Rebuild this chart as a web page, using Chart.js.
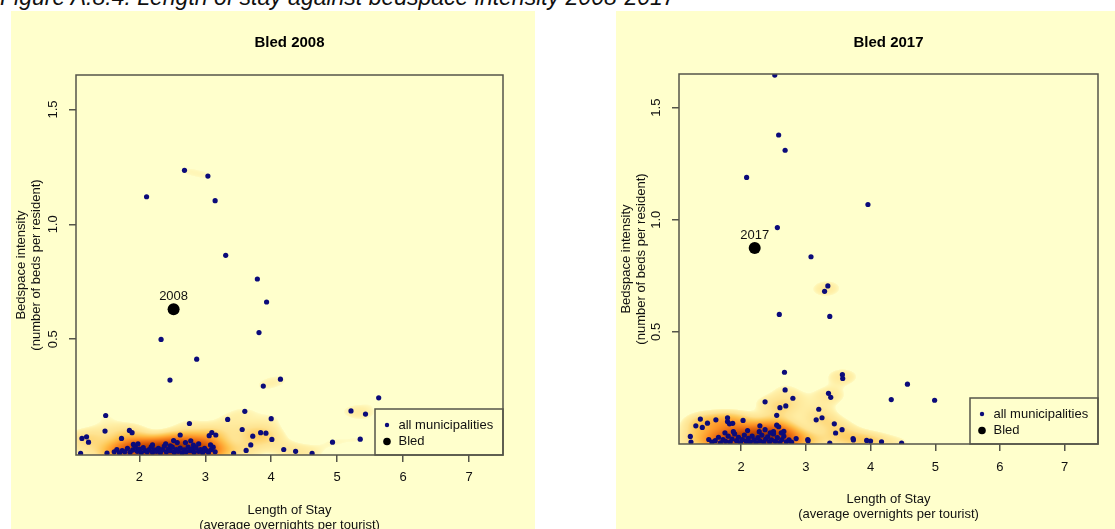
<!DOCTYPE html>
<html lang="en">
<head>
    <meta charset="UTF-8">
    <title>Length of stay against bedspace intensity 2008-2017</title>
    <script src="https://cdn.jsdelivr.net/npm/chart.js"></script>
    <style>
        body {
            margin: 0;
            width: 1115px;
            height: 529px;
            overflow: hidden;
            position: relative;
            background: #ffffff;
            font-family: "Liberation Sans", Arial, sans-serif;
        }
        .caption {
            position: absolute;
            left: 0;
            top: -14.5px;
            font-size: 23px;
            line-height: 23px;
            font-style: italic;
            white-space: nowrap;
            color: #111;
        }
        .panel {
            position: absolute;
            top: 11px;
            height: 540px;
            background: #ffffcc; /* same as lowest density colour */
        }
        #panel2008 { left: 11px; width: 524px; }
        #panel2017 { left: 616px; width: 499px; }
    </style>
</head>
<body>
    <div class="caption">Figure A.8.4: Length of stay against bedspace intensity 2008-2017</div>
    <div class="panel" id="panel2008"><canvas id="chart2008" width="524" height="540"></canvas></div>
    <div class="panel" id="panel2017"><canvas id="chart2017" width="499" height="540"></canvas></div>

    <script>
        // ---- data ----
        const xTicks = [2, 3, 4, 5, 6, 7];
        const yTicks = [0.5, 1.0, 1.5];
        const yTickLabels = ['0.5', '1.0', '1.5'];
        const seriesNames = ['all municipalities', 'Bled'];

        // length of stay (x) and bedspace intensity (y), all municipalities, 2008
        const stay2008 = [2.685, 3.04, 2.11, 3.15, 3.31, 3.79, 3.93, 3.815, 2.33, 2.87, 2.465, 4.14, 3.88, 5.63, 5.21, 5.43,
            3.6, 1.49, 3.34, 4.0, 2.76, 1.48, 1.85, 1.89, 3.56, 3.84, 3.92, 3.72, 4.01, 3.69, 3.62, 4.19, 4.37, 4.62, 4.93, 5.35,
            3.43, 1.13, 1.2, 1.23, 1.11, 1.51, 1.73, 1.91, 2.62, 3.06, 3.1, 3.16, 2.52, 2.575, 2.78, 2.82, 2.47,
            1.62, 1.66, 1.7, 1.74, 1.78, 1.82, 1.86, 1.9, 1.94, 1.97, 2.0, 2.03, 2.06, 2.09, 2.12, 2.15, 2.18, 2.2, 2.23, 2.26,
            2.29, 2.32, 2.35, 2.38, 2.41, 2.44, 2.47, 2.5, 2.53, 2.56, 2.59, 2.62, 2.65, 2.68, 2.71, 2.74, 2.77, 2.8, 2.83, 2.86,
            2.9, 2.93, 2.96, 2.99, 3.02, 3.05, 3.09, 3.12, 3.15, 2.4, 2.2, 1.98, 2.7, 2.9, 3.08];
        const beds2008 = [1.235, 1.21, 1.12, 1.103, 0.865, 0.762, 0.662, 0.529, 0.499, 0.413, 0.322, 0.326, 0.296, 0.245, 0.188, 0.174,
            0.186, 0.168, 0.151, 0.154, 0.133, 0.1, 0.103, 0.093, 0.107, 0.093, 0.091, 0.078, 0.064, 0.04, 0.016, 0.02, 0.012, 0.003, 0.052, 0.065,
            0.003, 0.068, 0.075, 0.052, 0.003, 0.004, 0.068, 0.042, 0.083, 0.08, 0.094, 0.083, 0.059, 0.05, 0.058, 0.039, 0.036,
            0.01, 0.02, 0.005, 0.015, 0.01, 0.025, 0.008, 0.018, 0.03, 0.012, 0.022, 0.006, 0.028, 0.015, 0.01, 0.02, 0.032, 0.008, 0.018, 0.012,
            0.025, 0.006, 0.02, 0.035, 0.01, 0.022, 0.015, 0.03, 0.008, 0.02, 0.012, 0.026, 0.005, 0.018, 0.01, 0.03, 0.015, 0.022, 0.008, 0.028,
            0.012, 0.02, 0.006, 0.025, 0.015, 0.008, 0.02, 0.03, 0.01, 0.045, 0.04, 0.045, 0.05, 0.045, 0.04];

        // all municipalities, 2017
        const stay2017 = [2.52, 2.58, 2.68, 2.085, 3.96, 2.56, 3.08, 3.34, 3.29, 2.59, 3.37, 2.67, 3.565, 3.57, 4.57, 2.68, 3.35, 3.385,
            2.8, 4.32, 4.99, 2.37, 2.6, 2.69, 3.2, 2.55, 3.16, 3.25, 3.44, 3.46, 3.56, 3.73, 3.735, 3.94, 4.0, 4.17, 4.48, 3.37, 3.03,
            3.035, 2.85, 1.215, 1.225, 1.3, 1.37, 1.4, 1.48, 1.61, 1.79, 1.79, 1.82, 1.87, 2.03, 2.29, 2.55, 2.58, 2.66, 2.5, 2.37,
            1.5, 1.55, 1.6, 1.65, 1.68, 1.72, 1.76, 1.8, 1.83, 1.86, 1.9, 1.93, 1.96, 1.99, 2.02, 2.05, 2.08, 2.11, 2.14, 2.17, 2.2,
            2.23, 2.26, 2.29, 2.32, 2.35, 2.38, 2.41, 2.44, 2.47, 2.5, 2.53, 2.56, 2.6, 2.63, 2.66, 2.7, 2.74, 2.78, 1.88, 2.1, 2.45,
            2.62, 1.75, 2.28];
        const beds2017 = [1.645, 1.378, 1.31, 1.189, 1.068, 0.965, 0.835, 0.705, 0.681, 0.578, 0.569, 0.32, 0.309, 0.292, 0.267, 0.241, 0.226, 0.208,
            0.204, 0.198, 0.195, 0.188, 0.162, 0.17, 0.155, 0.128, 0.108, 0.117, 0.09, 0.049, 0.064, 0.024, 0.018, 0.016, 0.013, 0.01, 0.004, 0.004, 0.02,
            0.015, 0.024, 0.034, 0.009, 0.081, 0.111, 0.074, 0.093, 0.108, 0.117, 0.1, 0.09, 0.092, 0.105, 0.081, 0.084, 0.077, 0.056, 0.055, 0.064,
            0.02, 0.008, 0.015, 0.03, 0.005, 0.02, 0.012, 0.035, 0.008, 0.022, 0.045, 0.015, 0.03, 0.006, 0.02, 0.04, 0.012, 0.025, 0.008, 0.035, 0.018,
            0.005, 0.028, 0.014, 0.04, 0.008, 0.022, 0.032, 0.01, 0.018, 0.045, 0.012, 0.028, 0.006, 0.02, 0.035, 0.01, 0.018, 0.008, 0.055, 0.06, 0.05,
            0.05, 0.05, 0.055];

        // Bled itself
        const bledStay = [2.52, 2.21];   // 2008, 2017
        const bledBeds = [0.63, 0.874];
        const years = ['2008', '2017'];

        // ---- look ----
        const BG = '#ffffcc';
        const FRAME = '#55554a';
        const RAMP = ['#ffffcc', '#fff0a8', '#fee391', '#fec44f', '#fe9929', '#ec7014', '#cc4c02', '#993404'];
        const BW_X = 0.2, BW_Y = 0.03;  // kernel bandwidth in data units
        const FLOOR = 1.1;              // density of a lone point stays background

        Chart.defaults.font.family = '"Liberation Sans", Arial, sans-serif';
        Chart.defaults.font.size = 13;
        Chart.defaults.color = '#111';

        function hexToRgb(h) {
            return [parseInt(h.slice(1, 3), 16), parseInt(h.slice(3, 5), 16), parseInt(h.slice(5, 7), 16)];
        }
        const rampRgb = RAMP.map(hexToRgb);
        function rampColor(t) {
            const p = Math.min(Math.max(t, 0), 1) * (rampRgb.length - 1);
            const i = Math.min(Math.floor(p), rampRgb.length - 2);
            const f = p - i;
            return rampRgb[i].map((c, k) => c + (rampRgb[i + 1][k] - c) * f);
        }

        // smoothed density of the municipalities behind the points
        const densityPlugin = {
            id: 'density',
            beforeDatasetsDraw(chart) {
                const { ctx, chartArea: a, scales: { x, y } } = chart;
                const pts = chart.data.datasets[0].data;
                const w = Math.round(a.right - a.left), h = Math.round(a.bottom - a.top);
                const vals = new Float32Array(w * h);
                let max = 0;
                for (let j = 0; j < h; j++) {
                    const vy = y.getValueForPixel(a.top + j + 0.5);
                    for (let i = 0; i < w; i++) {
                        const vx = x.getValueForPixel(a.left + i + 0.5);
                        let s = 0;
                        for (const p of pts) {
                            const dx = (vx - p.x) / BW_X, dy = (vy - p.y) / BW_Y;
                            const d2 = dx * dx + dy * dy;
                            if (d2 < 18) s += Math.exp(-d2 / 2);
                        }
                        vals[j * w + i] = s;
                        if (s > max) max = s;
                    }
                }
                const img = ctx.createImageData(w, h);
                for (let k = 0; k < w * h; k++) {
                    const t = Math.max(0, vals[k] - FLOOR) / (max - FLOOR);
                    const c = rampColor(Math.pow(t, 0.5));
                    img.data[k * 4] = c[0];
                    img.data[k * 4 + 1] = c[1];
                    img.data[k * 4 + 2] = c[2];
                    img.data[k * 4 + 3] = 255;
                }
                ctx.putImageData(img, Math.round(a.left), Math.round(a.top));
            }
        };

        // frame, rotated y labels, year label and the boxed legend
        const framePlugin = {
            id: 'frame',
            afterDatasetsDraw(chart, args, opts) {
                const { ctx, chartArea: a, scales: { x, y } } = chart;
                ctx.save();
                // year label above the Bled point
                const bled = chart.data.datasets[1].data[0];
                ctx.fillStyle = '#111';
                ctx.font = '13px "Liberation Sans", Arial, sans-serif';
                ctx.textAlign = 'center';
                ctx.textBaseline = 'middle';
                ctx.fillText(opts.year, x.getPixelForValue(bled.x), y.getPixelForValue(bled.y) - 13);

                // y tick labels, turned like R does
                yTicks.forEach((v, i) => {
                    ctx.save();
                    ctx.translate(a.left - 22.5, y.getPixelForValue(v));
                    ctx.rotate(-Math.PI / 2);
                    ctx.fillText(yTickLabels[i], 0, 0);
                    ctx.restore();
                });

                // legend
                const lw = 128, lh = 46;
                const lx = a.right - lw, ly = a.bottom - lh;
                ctx.fillStyle = BG;
                ctx.fillRect(lx, ly, lw, lh);
                ctx.strokeStyle = FRAME;
                ctx.lineWidth = 1.5;
                ctx.strokeRect(lx, ly, lw, lh);
                chart.data.datasets.forEach((ds, i) => {
                    const cy = ly + 16 + i * 16.5;
                    ctx.fillStyle = ds.backgroundColor;
                    ctx.beginPath();
                    ctx.arc(lx + 12, cy, i === 0 ? 2.2 : 3.8, 0, Math.PI * 2);
                    ctx.fill();
                    ctx.fillStyle = '#111';
                    ctx.textAlign = 'left';
                    ctx.fillText(ds.label, lx + 23.5, cy);
                });

                // plot box
                ctx.strokeStyle = FRAME;
                ctx.lineWidth = 1.5;
                ctx.strokeRect(a.left, a.top, a.right - a.left, a.bottom - a.top);
                ctx.restore();
            }
        };

        function makeChart(id, p) {
            const muni = p.stay.map((v, i) => ({ x: v, y: p.beds[i] }));
            new Chart(document.getElementById(id), {
                type: 'scatter',
                data: {
                    datasets: [
                        {
                            label: seriesNames[0],
                            data: muni,
                            backgroundColor: '#0b0b7a',
                            pointRadius: 2.6,
                            pointBorderWidth: 0
                        },
                        {
                            label: seriesNames[1],
                            data: [{ x: bledStay[p.idx], y: bledBeds[p.idx] }],
                            backgroundColor: '#000000',
                            pointRadius: 6,
                            pointBorderWidth: 0
                        }
                    ]
                },
                options: {
                    responsive: false,
                    animation: false,
                    events: [],
                    layout: { padding: { top: 0, left: 0, right: p.padRight, bottom: 0 } },
                    plugins: {
                        legend: { display: false },
                        tooltip: { enabled: false },
                        title: {
                            display: true,
                            text: 'Bled ' + years[p.idx],
                            fullSize: false,
                            color: '#000',
                            font: { size: 15, weight: 'bold' },
                            padding: { top: 23, bottom: p.titleBottom }
                        },
                        frame: { year: years[p.idx] }
                    },
                    scales: {
                        x: {
                            type: 'linear',
                            min: 1.04,
                            max: 7.515,
                            afterBuildTicks: s => { s.ticks = xTicks.map(v => ({ value: v })); },
                            afterFit: s => { s.height = p.xHeight; },
                            ticks: { padding: p.xTickPad, maxRotation: 0, autoSkip: false, color: '#111' },
                            grid: { display: true, drawOnChartArea: false, drawTicks: true, tickLength: 7, color: FRAME, lineWidth: 1.5 },
                            border: { display: false },
                            title: {
                                display: true,
                                text: ['Length of Stay', '(average overnights per tourist)'],
                                color: '#111',
                                font: { size: 13, lineHeight: 1.15 },
                                padding: { top: 0, bottom: p.xTitlePad }
                            }
                        },
                        y: {
                            type: 'linear',
                            min: p.yMin,
                            max: 1.65,
                            afterBuildTicks: s => { s.ticks = yTicks.map(v => ({ value: v })); },
                            afterFit: s => { s.width = p.yWidth; },
                            ticks: { display: false },
                            grid: { display: true, drawOnChartArea: false, drawTicks: true, tickLength: 7, color: FRAME, lineWidth: 1.5 },
                            border: { display: false },
                            title: {
                                display: true,
                                text: ['Bedspace intensity', '(number of beds per resident)'],
                                color: '#111',
                                font: { size: 13, lineHeight: 1.15 },
                                padding: { top: 3, bottom: 0 }
                            }
                        }
                    }
                },
                plugins: [densityPlugin, framePlugin]
            });
        }

        makeChart('chart2008', {
            idx: 0, stay: stay2008, beds: beds2008, yMin: -0.004,
            padRight: 32, titleBottom: 23, xHeight: 96, xTickPad: 8, xTitlePad: 18.5, yWidth: 65
        });
        makeChart('chart2017', {
            idx: 1, stay: stay2017, beds: beds2017, yMin: 0,
            padRight: 17, titleBottom: 22, xHeight: 107, xTickPad: 9, xTitlePad: 29.5, yWidth: 63
        });
    </script>
</body>
</html>
